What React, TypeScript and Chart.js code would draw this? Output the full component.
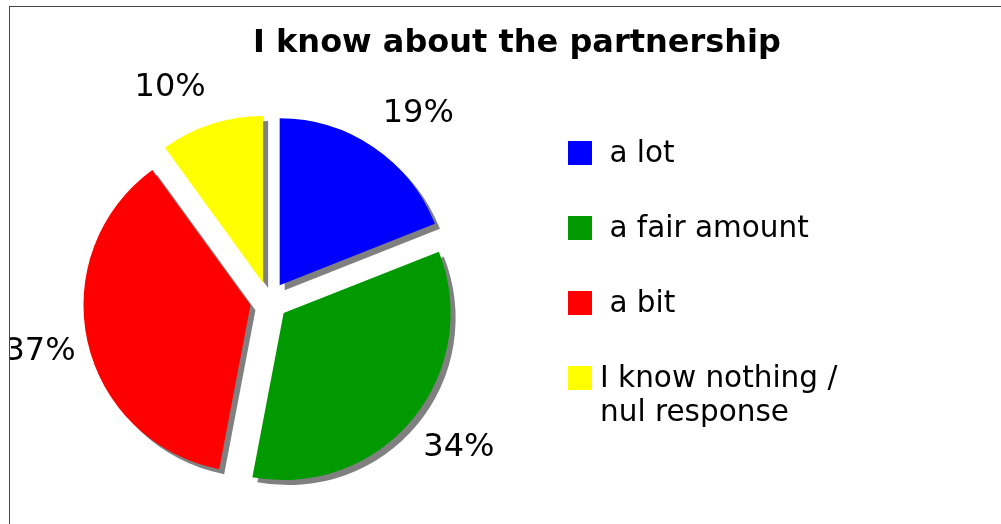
import React, { useEffect, useRef } from "react";
import { Chart, registerables } from "chart.js";

Chart.register(...registerables);

const TITLE = "I know about the partnership";
const categories = [" a lot", " a fair amount", " a bit", "I know nothing /\nnul response"];
const values = [19, 34, 37, 10];
const colors = ["#0000FF", "#009900", "#FF0000", "#FFFF00"];

const FONT = "'DejaVu Sans', Verdana, sans-serif";
const EXPLODE = 19;
const SHADOW = "#808080";

const explodePlugin = {
  id: "explodeSlices",
  afterDatasetsUpdate(chart: any) {
    const meta = chart.getDatasetMeta(0);
    meta.data.forEach((arc: any) => {
      const mid = (arc.startAngle + arc.endAngle) / 2;
      arc.x += Math.cos(mid) * EXPLODE;
      arc.y += Math.sin(mid) * EXPLODE;
    });
  },
};

const shadowPlugin = {
  id: "sliceShadow",
  beforeDatasetsDraw(chart: any) {
    const ctx = chart.ctx;
    ctx.save();
    ctx.shadowColor = SHADOW;
    ctx.shadowOffsetX = 5;
    ctx.shadowOffsetY = 5;
    ctx.shadowBlur = 0;
  },
  afterDatasetsDraw(chart: any) {
    chart.ctx.restore();
  },
};

const clamp = (v: number, a: number, b: number) => Math.max(a, Math.min(b, v));

const decorPlugin = {
  id: "decor",
  afterDraw(chart: any) {
    const ctx = chart.ctx;
    ctx.save();
    ctx.fillStyle = "#000";
    ctx.textBaseline = "middle";

    // title
    ctx.font = `bold 32px ${FONT}`;
    ctx.textAlign = "center";
    ctx.fillText(TITLE, 507, 37);

    // percentage labels
    const meta = chart.getDatasetMeta(0);
    const total = values.reduce((a, b) => a + b, 0);
    ctx.font = `32px ${FONT}`;
    meta.data.forEach((arc: any, i: number) => {
      const mid = (arc.startAngle + arc.endAngle) / 2;
      const r = arc.outerRadius + 22;
      const c = Math.cos(mid);
      const s = Math.sin(mid);
      const px = arc.x + c * r;
      const py = arc.y + s * r;
      const text = Math.round((values[i] / total) * 100) + "%";
      const w = ctx.measureText(text).width;
      const h = 30;
      const cx = px + Math.sign(c) * (w / 2) - 10 * c * Math.abs(c);
      const cy = py + clamp(s * 1.5, -1, 1) * (h / 2);
      ctx.textAlign = "center";
      ctx.fillText(text, cx, cy);
    });

    // legend
    ctx.font = `29.5px ${FONT}`;
    ctx.textAlign = "left";
    categories.forEach((cat, i) => {
      const y = 134 + i * 75;
      ctx.fillStyle = colors[i];
      ctx.fillRect(558, y, 24, 24);
      ctx.fillStyle = "#000";
      cat.split("\n").forEach((ln, j) => {
        ctx.fillText(ln, 590, y + 13 + j * 34);
      });
    });
    ctx.restore();
  },
};

export default function App() {
  const ref = useRef<HTMLCanvasElement | null>(null);

  useEffect(() => {
    if (!ref.current) return;
    const chart = new Chart(ref.current, {
      type: "pie",
      data: {
        labels: categories,
        datasets: [
          {
            data: values,
            backgroundColor: colors,
            borderWidth: 0,
            radius: 167,
            hoverOffset: 0,
            clip: false,
          } as any,
        ],
      },
      options: {
        responsive: false,
        animation: false,
        events: [],
        layout: { padding: { left: 0, right: 482, top: 58, bottom: 0 } },
        plugins: {
          legend: { display: false },
          title: { display: false },
          tooltip: { enabled: false },
        },
      },
      plugins: [explodePlugin, shadowPlugin, decorPlugin],
    });
    return () => chart.destroy();
  }, []);

  return (
    <div
      style={{
        position: "fixed",
        left: 9,
        top: 6,
        width: 1100,
        height: 600,
        border: "1px solid #444",
        overflow: "hidden",
        background: "#fff",
      }}
    >
      <canvas ref={ref} width={1000} height={530} style={{ display: "block" }} />
    </div>
  );
}
